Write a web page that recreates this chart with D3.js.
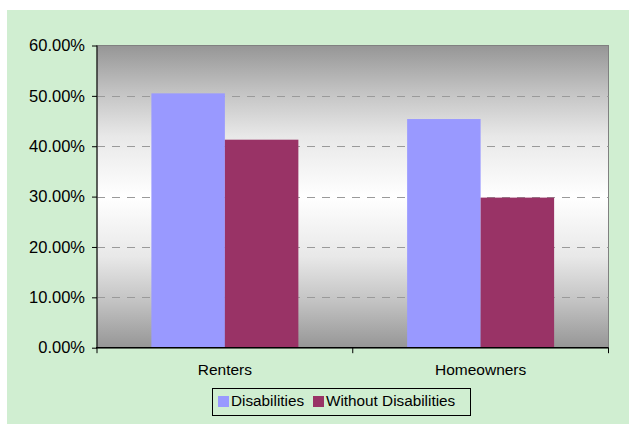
<!DOCTYPE html>
<html>
<head>
<meta charset="utf-8">
<script src="https://cdn.jsdelivr.net/npm/d3@7"></script>
<style>
  html, body { margin: 0; padding: 0; background: #ffffff; }
  svg { display: block; }
  text { font-family: "Liberation Sans", Arial, sans-serif; fill: #000; }
</style>
</head>
<body>
<svg id="chart" width="629" height="425"></svg>
<script>
// Share of households, by tenure and disability status
const categories = ["Renters", "Homeowners"];
const seriesNames = ["Disabilities", "Without Disabilities"];
const disabilities = [0.505, 0.454];
const withoutDisabilities = [0.413, 0.298];
const yTicks = [0, 0.1, 0.2, 0.3, 0.4, 0.5, 0.6];
const seriesColors = ["#9999ff", "#993366"];

const svg = d3.select("#chart");

// Panel background
svg.append("rect")
  .attr("x", 7).attr("y", 10)
  .attr("width", 622).attr("height", 414)
  .attr("fill", "#d0eed1");

const plot = { left: 97, right: 608.5, top: 45.5, bottom: 347.7 };

const x0 = d3.scaleBand()
  .domain(categories)
  .range([plot.left, plot.right])
  .padding(0);

const x1 = d3.scaleBand()
  .domain(seriesNames)
  .range([0, x0.bandwidth()])
  .paddingInner(0)
  .paddingOuter(0.74);

const y = d3.scaleLinear()
  .domain([0, 0.6])
  .range([plot.bottom, plot.top]);

const color = d3.scaleOrdinal().domain(seriesNames).range(seriesColors);

// Plot area gradient: gray edges, white centre
const defs = svg.append("defs");
const grad = defs.append("linearGradient")
  .attr("id", "plotFill")
  .attr("x1", 0).attr("y1", 0).attr("x2", 0).attr("y2", 1);
[[0, "#969696"], [0.15, "#c2c2c2"], [0.3, "#e8e8e8"], [0.5, "#ffffff"],
 [0.7, "#e8e8e8"], [0.85, "#c2c2c2"], [1, "#969696"]]
  .forEach(([o, c]) => grad.append("stop").attr("offset", o).attr("stop-color", c));

svg.append("rect")
  .attr("x", plot.left).attr("y", plot.top)
  .attr("width", plot.right - plot.left).attr("height", plot.bottom - plot.top)
  .attr("fill", "url(#plotFill)")
  .attr("stroke", "#808080").attr("stroke-width", 1);

// Dashed gridlines
svg.append("g")
  .selectAll("line")
  .data(yTicks.filter(t => t > 0 && t < 0.6))
  .join("line")
  .attr("x1", plot.left).attr("x2", plot.right)
  .attr("y1", d => Math.round(y(d)) + 0.5).attr("y2", d => Math.round(y(d)) + 0.5)
  .attr("stroke", "#9a9a9a")
  .attr("stroke-width", 1)
  .attr("stroke-dasharray", "8,7");

// Bars
const rows = categories.map((c, i) => ({
  category: c,
  values: [
    { series: seriesNames[0], value: disabilities[i] },
    { series: seriesNames[1], value: withoutDisabilities[i] }
  ]
}));

svg.append("g")
  .selectAll("g")
  .data(rows)
  .join("g")
  .attr("transform", d => `translate(${x0(d.category)},0)`)
  .selectAll("rect")
  .data(d => d.values)
  .join("rect")
  .attr("x", d => x1(d.series))
  .attr("y", d => y(d.value))
  .attr("width", x1.bandwidth())
  .attr("height", d => y(0) - y(d.value))
  .attr("fill", d => color(d.series));

// Y axis
const yAxis = d3.axisLeft(y)
  .tickValues(yTicks)
  .tickFormat(d3.format(".2%"))
  .tickSize(5)
  .tickPadding(7);

const yg = svg.append("g")
  .attr("transform", `translate(${plot.left},0)`)
  .call(yAxis);
yg.select(".domain").attr("stroke", "#000").attr("d", `M0,${plot.top}V${plot.bottom}`);
yg.selectAll(".tick line").attr("stroke", "#000");
yg.selectAll(".tick text")
  .attr("font-size", 16.5)
  .attr("font-family", "Liberation Sans, Arial, sans-serif")
  .attr("fill", "#000");

// X axis with category dividers
const xAxisLine = svg.append("g");
xAxisLine.append("line")
  .attr("x1", plot.left - 1).attr("x2", plot.right)
  .attr("y1", plot.bottom).attr("y2", plot.bottom)
  .attr("stroke", "#000").attr("stroke-width", 1.5);
const dividers = [plot.left].concat(categories.map(c => x0(c) + x0.bandwidth()));
xAxisLine.selectAll("line.div")
  .data(dividers)
  .join("line")
  .attr("class", "div")
  .attr("x1", d => d).attr("x2", d => d)
  .attr("y1", plot.bottom).attr("y2", plot.bottom + 5.5)
  .attr("stroke", "#000");

svg.append("g")
  .selectAll("text")
  .data(categories)
  .join("text")
  .attr("x", d => x0(d) + x0.bandwidth() / 2)
  .attr("y", 375)
  .attr("text-anchor", "middle")
  .attr("font-size", 15.5)
  .text(d => d);

// Legend
const legend = svg.append("g");
legend.append("rect")
  .attr("x", 212.5).attr("y", 388.5)
  .attr("width", 258).attr("height", 27)
  .attr("fill", "none")
  .attr("stroke", "#000").attr("stroke-width", 1);

const legendItems = [
  { name: seriesNames[0], sx: 218, tx: 231 },
  { name: seriesNames[1], sx: 313, tx: 326 }
];
legendItems.forEach(it => {
  legend.append("rect")
    .attr("x", it.sx).attr("y", 396)
    .attr("width", 11).attr("height", 11)
    .attr("fill", color(it.name));
  legend.append("text")
    .attr("x", it.tx).attr("y", 406)
    .attr("font-size", 15.3)
    .text(it.name);
});
</script>
</body>
</html>
